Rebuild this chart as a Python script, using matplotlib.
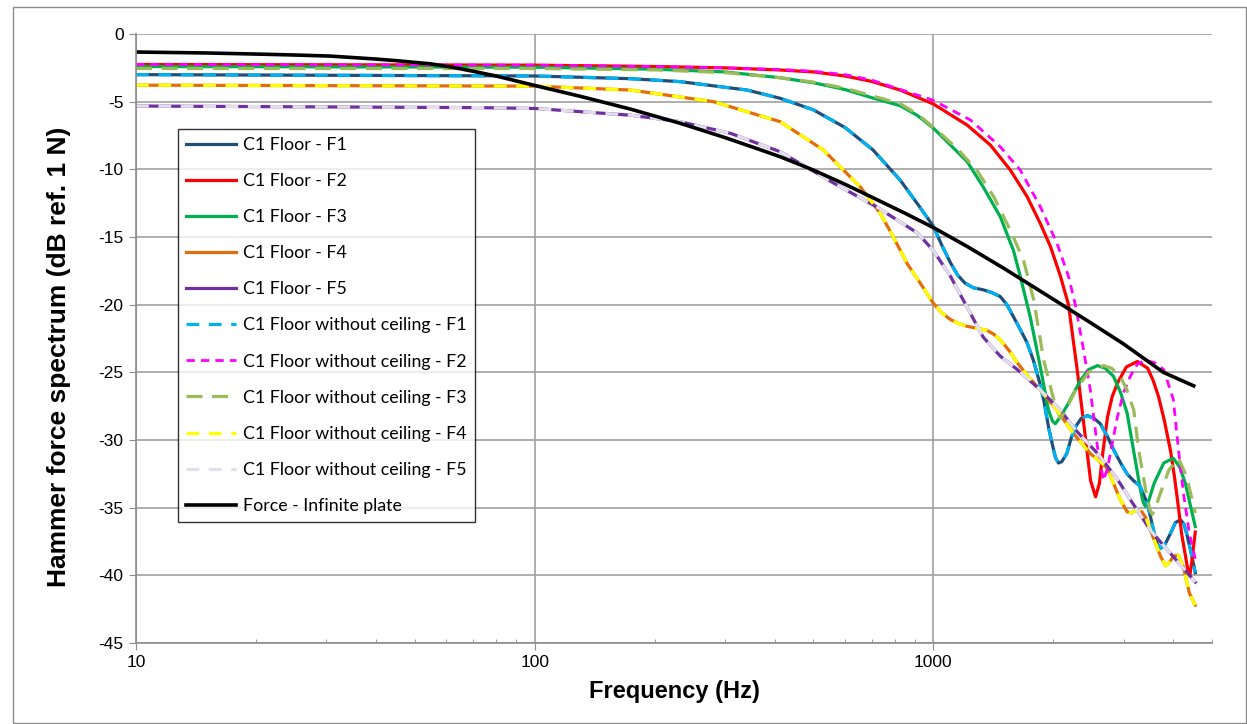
import matplotlib.pyplot as plt
from matplotlib.patches import Rectangle

# values (frequency in Hz, level in dB)
f_f1 = [10, 100, 174, 232, 341, 413, 500, 600, 706, 826, 910, 1000, 1050, 1104, 1150, 1200, 1260,
        1334, 1400, 1472, 1530, 1589, 1650, 1718, 1782, 1850, 1892, 1950, 1986, 2025, 2060, 2100,
        2162, 2220, 2276, 2350, 2437, 2530, 2624, 2730, 2831, 2950, 3062, 3176, 3300, 3443, 3520,
        3580, 3650, 3715, 3800, 3936, 4050, 4169, 4250, 4320, 4430, 4540]
v_f1 = [-3.0, -3.1, -3.3, -3.52, -4.14, -4.75, -5.6, -6.9, -8.57, -10.8, -12.5, -14.2, -15.6, -16.9,
        -17.8, -18.4, -18.75, -18.9, -19.1, -19.4, -20.0, -20.9, -21.8, -22.8, -24.1, -25.8, -27.05,
        -29.2, -30.25, -31.3, -31.7, -31.6, -31.0, -29.8, -29.0, -28.4, -28.2, -28.4, -28.8, -29.7,
        -30.7, -31.7, -32.5, -33.0, -33.4, -34.7, -35.9, -36.9, -37.7, -38.0, -37.8, -36.9, -36.1,
        -35.9, -36.2, -36.9, -38.3, -39.8]

f_f2 = [10, 100, 200, 300, 413, 500, 600, 700, 826, 1000, 1216, 1390, 1560, 1718, 1855, 1967, 2084,
        2183, 2300, 2400, 2480, 2553, 2610, 2660, 2735, 2810, 2896, 3050, 3251, 3450, 3560, 3673,
        3800, 3936, 4030, 4120, 4200, 4287, 4350, 4400, 4450, 4540]
v_f2 = [-2.25, -2.3, -2.4, -2.5, -2.66, -2.8, -3.1, -3.5, -4.14, -5.17, -6.73, -8.2, -10.05, -12.0,
        -14.0, -15.7, -17.9, -20.0, -25.0, -29.5, -33.0, -34.2, -33.2, -31.0, -28.3, -26.8, -25.8,
        -24.6, -24.2, -24.7, -25.6, -26.8, -28.6, -30.8, -32.8, -35.0, -37.0, -38.5, -39.6, -40.0,
        -39.0, -36.8]

f_f3 = [10, 100, 200, 300, 413, 500, 600, 700, 826, 910, 1000, 1104, 1216, 1334, 1472, 1589, 1652,
        1750, 1855, 1945, 1990, 2023, 2070, 2162, 2339, 2450, 2583, 2700, 2831, 2950, 3062, 3176,
        3304, 3360, 3404, 3460, 3580, 3784, 4000, 4150, 4287, 4540]
v_f3 = [-2.4, -2.45, -2.6, -2.8, -3.23, -3.6, -4.1, -4.7, -5.3, -6.0, -6.95, -8.2, -9.43, -11.3,
        -13.5, -16.0, -17.9, -20.9, -24.6, -27.8, -28.6, -28.8, -28.4, -27.5, -25.6, -24.8, -24.5,
        -24.7, -25.3, -26.5, -28.0, -30.7, -33.6, -34.6, -34.9, -34.6, -33.2, -31.7, -31.35, -32.0,
        -33.2, -36.4]

f_f4 = [10, 100, 174, 281, 413, 530, 656, 736, 794, 859, 927, 1000, 1050, 1104, 1160, 1216, 1290,
        1364, 1420, 1472, 1550, 1625, 1740, 1855, 2043, 2244, 2477, 2716, 2831, 2944, 3062, 3140,
        3216, 3336, 3420, 3510, 3715, 3825, 3920, 4000, 4120, 4240, 4387, 4540]
v_f4 = [-3.78, -3.85, -4.14, -5.0, -6.48, -8.57, -11.3, -13.25, -15.0, -16.95, -18.4, -19.9, -20.6,
        -21.1, -21.4, -21.6, -21.75, -21.9, -22.2, -22.6, -23.4, -24.3, -25.4, -26.3, -27.8, -29.5,
        -31.0, -32.0, -33.2, -34.4, -35.3, -35.4, -35.2, -35.3, -35.8, -36.7, -38.6, -39.3, -39.0,
        -38.6, -38.5, -39.4, -41.3, -42.2]

f_f5 = [10, 73, 100, 174, 232, 310, 413, 561, 723, 912, 1000, 1104, 1216, 1334, 1472, 1625, 1855,
        2084, 2280, 2583, 2896, 3119, 3510, 3860, 4335, 4540]
v_f5 = [-5.32, -5.44, -5.5, -6.0, -6.48, -7.34, -8.7, -11.0, -12.8, -14.7, -16.0, -17.9, -20.2,
        -22.4, -23.8, -24.8, -26.3, -27.8, -29.3, -31.0, -32.9, -34.4, -36.7, -38.1, -39.8, -40.5]

# without ceiling: F1, F4, F5 lie on top of the floor curves
f_w1, v_w1 = list(f_f1), list(v_f1)
f_w4, v_w4 = list(f_f4), list(v_f4)
f_w5, v_w5 = list(f_f5), list(v_f5)

f_w2 = [10, 100, 200, 300, 413, 500, 600, 700, 859, 1000, 1240, 1472, 1652, 1855, 2043, 2183, 2271,
        2380, 2477, 2580, 2673, 2740, 2800, 2896, 3000, 3119, 3250, 3404, 3600, 3784, 4000, 4120,
        4240, 4387, 4540]
v_w2 = [-2.25, -2.3, -2.4, -2.5, -2.62, -2.75, -3.0, -3.4, -4.26, -4.9, -6.36, -8.33, -10.05, -12.76,
        -15.47, -17.9, -20.0, -23.3, -26.3, -30.5, -33.0, -32.0, -30.5, -28.3, -26.5, -25.3, -24.4,
        -24.1, -24.3, -24.8, -27.0, -30.7, -33.9, -36.9, -38.8]

f_w3 = [10, 100, 200, 300, 413, 500, 600, 700, 826, 910, 1021, 1146, 1285, 1416, 1560, 1683, 1786,
        1892, 2000, 2043, 2084, 2140, 2276, 2450, 2673, 2800, 2944, 3060, 3183, 3273, 3443, 3500,
        3540, 3600, 3715, 3900, 4120, 4320, 4540]
v_w3 = [-2.55, -2.55, -2.65, -2.85, -3.23, -3.55, -4.0, -4.55, -5.15, -5.9, -7.1, -8.45, -10.05, -12.0,
        -14.5, -16.7, -19.65, -24.1, -26.9, -27.8, -28.4, -27.9, -26.3, -25.0, -24.5, -24.7, -25.3,
        -26.3, -27.8, -30.7, -34.4, -35.2, -35.5, -35.1, -33.9, -32.2, -31.35, -32.7, -35.4]

f_fp = [10, 15, 20, 25, 30.7, 40, 45, 54.7, 62, 70, 80, 100, 130, 174, 232, 300, 364, 413, 500, 600,
        706, 850, 1000, 1216, 1500, 2000, 2500, 3000, 3776, 4500]
v_fp = [-1.33, -1.40, -1.48, -1.55, -1.63, -1.85, -1.97, -2.2, -2.45, -2.75, -3.1, -3.8, -4.6, -5.55,
        -6.6, -7.65, -8.5, -9.07, -10.05, -11.1, -12.1, -13.25, -14.3, -15.7, -17.3, -19.6, -21.4,
        -22.9, -25.0, -26.0]

plt.rcParams['font.family'] = ['Liberation Sans', 'DejaVu Sans']
plt.rcParams['axes.unicode_minus'] = False

fig = plt.figure(figsize=(12.47, 7.24), dpi=100)
ax = fig.add_axes([0.1091, 0.1119, 0.8628, 0.8411])

# figure border
fig.patches.append(Rectangle((13 / 1247, 1 / 724), 1 - 14 / 1247, 1 - 8 / 724,
                             transform=fig.transFigure, fill=False, edgecolor='#8c8c8c', lw=1))

lw = 2.3
ax.plot(f_f1, v_f1, color='#1F4E79', lw=lw, label='C1 Floor - F1')
ax.plot(f_f2, v_f2, color='#FF0000', lw=lw, label='C1 Floor - F2')
ax.plot(f_f3, v_f3, color='#00B050', lw=lw, label='C1 Floor - F3')
ax.plot(f_f4, v_f4, color='#E46C0A', lw=lw, label='C1 Floor - F4')
ax.plot(f_f5, v_f5, color='#7030A0', lw=lw, label='C1 Floor - F5')
ax.plot(f_w1, v_w1, color='#00B0F0', lw=lw, dashes=(4, 3), label='C1 Floor without ceiling - F1')
ax.plot(f_w2, v_w2, color='#FF00FF', lw=2.0, dashes=(3, 2.2), label='C1 Floor without ceiling - F2')
ax.plot(f_w3, v_w3, color='#9BBB59', lw=lw, dashes=(5, 3), label='C1 Floor without ceiling - F3')
ax.plot(f_w4, v_w4, color='#FFFF00', lw=lw, dashes=(4, 3), label='C1 Floor without ceiling - F4')
ax.plot(f_w5, v_w5, color='#E3DEEC', lw=lw, dashes=(4, 3), label='C1 Floor without ceiling - F5')
ax.plot(f_fp, v_fp, color='black', lw=2.6, label='Force - Infinite plate')

ax.set_xscale('log')
ax.set_xlim(10, 5000)
ax.set_ylim(-45, 0)
ax.set_yticks(range(-45, 1, 5))
ax.set_xticks([10, 100, 1000])
ax.set_xticklabels(['10', '100', '1000'])
ax.grid(True, which='major', color='#a0a0a0', lw=1.2)
ax.set_axisbelow(True)

for s in ['top', 'right']:
    ax.spines[s].set_visible(False)
for s in ['left', 'bottom']:
    ax.spines[s].set_color('#8c8c8c')
    ax.spines[s].set_linewidth(1.2)

ax.tick_params(axis='both', which='major', direction='out', length=5, color='#8c8c8c',
               labelsize=12.5, pad=4)
ax.tick_params(axis='x', which='minor', direction='in', length=3, color='#8c8c8c')
ax.tick_params(axis='x', which='minor', labelbottom=False)

ax.set_xlabel('Frequency (Hz)', fontsize=17, fontweight='bold', labelpad=7)
ax.set_ylabel('Hammer force spectrum (dB ref. 1 N)', fontsize=19, fontweight='bold')
ax.yaxis.set_label_coords(-0.060, 0.47)

leg = ax.legend(loc='upper left', bbox_to_anchor=(0.039, 0.844), frameon=True, fancybox=False,
                edgecolor='black', handlelength=2.8, handletextpad=0.4, labelspacing=1.13,
                borderpad=0.45, borderaxespad=0, prop={'family': 'Lato', 'size': 12.8})
leg.get_frame().set_linewidth(1.0)

plt.savefig('out.png', dpi=100)
